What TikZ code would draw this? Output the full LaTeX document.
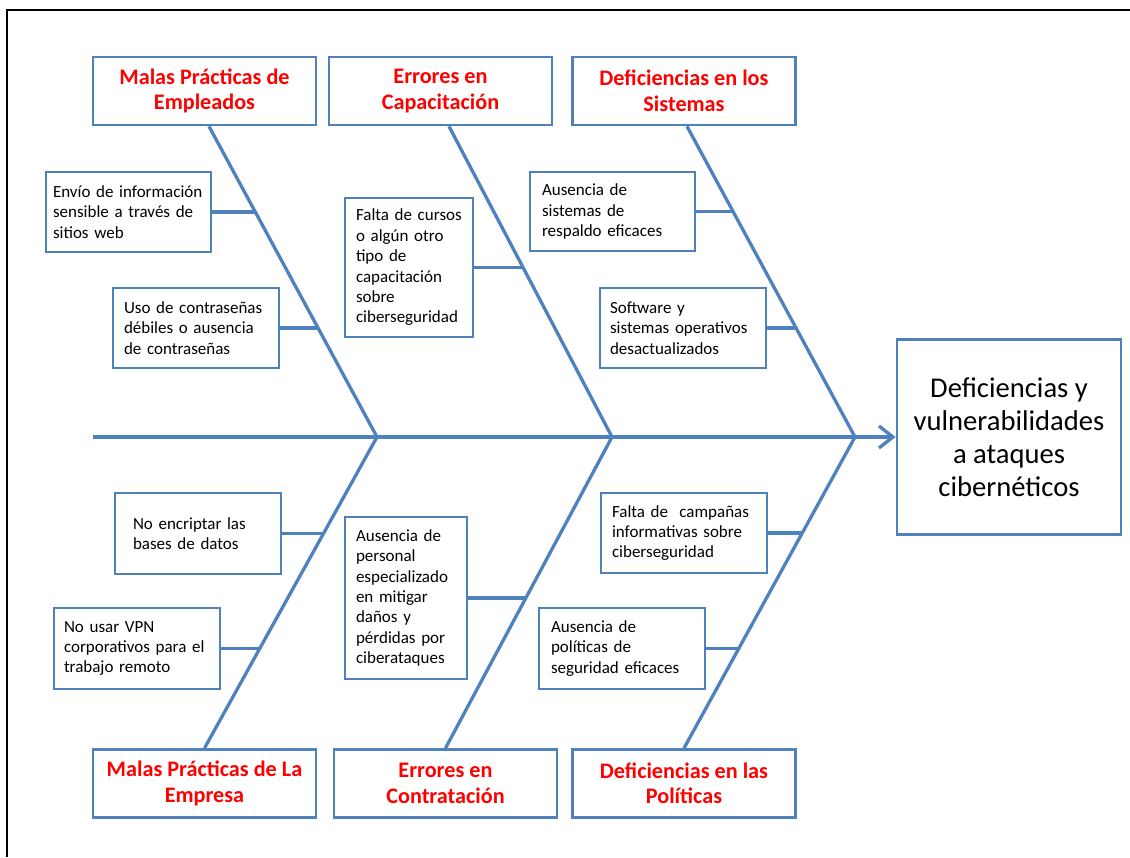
\documentclass[tikz,border=0pt]{standalone}
\usepackage{fontspec}
\setmainfont{Carlito}
\usepackage{tikz}
\usetikzlibrary{arrows.meta,calc}
\definecolor{azul}{HTML}{4F81BD}
\definecolor{rojo}{HTML}{FF0000}
\hyphenpenalty=10000
\exhyphenpenalty=10000

\begin{document}
\begin{tikzpicture}[x=1pt,y=-1pt,
  cab/.style={draw=azul,line width=2.7pt,minimum width=223pt,minimum height=68pt,align=center,text=rojo,font=\fontsize{22.2}{25.5}\selectfont\bfseries},
  causa/.style={draw=azul,line width=2.7pt,align=left,inner ysep=0pt,font=\fontsize{17}{20.4}\selectfont},
  efecto/.style={draw=azul,line width=2.7pt,minimum width=224pt,minimum height=195pt,align=center,font=\fontsize{28.6}{33}\selectfont},
  hueso/.style={draw=azul,line width=3.3pt}]
\useasboundingbox (0,0) rectangle (1130,857);
\draw[line width=2pt] (7,857) -- (7,10) -- (1130,10);

% cabezas de las espinas
\node[cab] (h1) at (204.5,91) {Malas Prácticas de\\Empleados};
\node[cab] (h2) at (440.5,91) {Errores en\\Capacitación};
\node[cab] (h3) at (684,91) {Deficiencias en los\\Sistemas};
\node[cab] (h4) at (204.5,783.5) {Malas Prácticas de La\\Empresa};
\node[cab] (h5) at (445.5,783.5) {Errores en\\Contratación};
\node[cab] (h6) at (684,783.5) {Deficiencias en las\\Políticas};

\node[efecto] (m) at (1009,437) {Deficiencias y\\vulnerabilidades\\a ataques\\cibernéticos};

% espina central
\coordinate (s0) at (93,437);
\coordinate (j1) at (377,437);
\coordinate (j2) at (612,437);
\coordinate (j3) at (855,437);
\draw[hueso,-{Straight Barb[length=14pt,width=22pt]}] (s0) -- (m.west);

\draw[hueso] ([xshift=4.5pt]h1.south) -- (j1) -- (h4.north);
\draw[hueso] ([xshift=8.5pt]h2.south) -- (j2) -- (h5.north);
\draw[hueso] ([xshift=3pt]h3.south) -- (j3) -- (h6.north);

% causas
\node[causa,inner xsep=7pt,text width=151pt,minimum height=80pt] (c1) at (128.5,212) {Envío de información\\sensible a través de\\sitios web};
\node[causa,inner xsep=11pt,text width=144pt,minimum height=80pt] (c2) at (196,328) {Uso de contraseñas\\débiles o ausencia\\de contraseñas};
\node[causa,inner xsep=11pt,text width=106pt,minimum height=139pt] (c3) at (409,267.5) {Falta de cursos\\o algún otro\\tipo de\\capacitación\\sobre\\ciberseguridad};
\node[causa,inner xsep=12pt,text width=141pt,minimum height=79pt] (c4) at (612.5,211.5) {Ausencia de\\sistemas de\\respaldo eficaces};
\node[causa,inner xsep=10pt,text width=146pt,minimum height=80pt] (c5) at (683,328) {Software y\\sistemas operativos\\desactualizados};
\node[causa,inner xsep=18pt,text width=130pt,minimum height=81pt] (c6) at (198,533.5) {No encriptar las\\bases de datos};
\node[causa,inner xsep=10pt,text width=146pt,minimum height=81pt] (c7) at (137,648.5) {No usar VPN\\corporativos para el\\trabajo remoto};
\node[causa,inner xsep=11pt,text width=100pt,minimum height=162pt] (c8) at (406,598) {Ausencia de\\personal\\especializado\\en mitigar\\daños y\\pérdidas por\\ciberataques};
\node[causa,inner xsep=11pt,text width=144pt,minimum height=80pt] (c9) at (684,533) {Falta de\ \ campañas\\informativas sobre\\ciberseguridad};
\node[causa,inner xsep=12pt,text width=142pt,minimum height=81pt] (c10) at (622,648.5) {Ausencia de\\políticas de\\seguridad eficaces};

% puntos sobre las espinas
\coordinate (k1) at (255.8,212);
\coordinate (k2) at (318.3,328);
\coordinate (k3) at (523.4,267.5);
\coordinate (k4) at (733.6,211.5);
\coordinate (k5) at (796.3,328);
\coordinate (k6) at (323.7,533.5);
\coordinate (k7) at (260.1,648.5);
\coordinate (k8) at (526.6,598);
\coordinate (k9) at (802.2,533);
\coordinate (k10) at (738.8,648.5);
\foreach \i in {1,...,10}
  \draw[hueso] (c\i.east) -- (c\i.east -| k\i);
\end{tikzpicture}
\end{document}
